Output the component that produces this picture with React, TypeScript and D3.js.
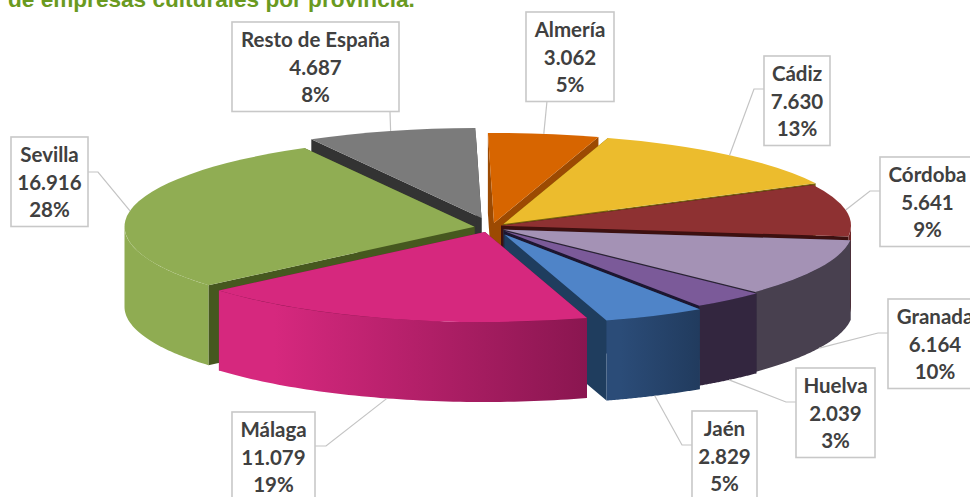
import React from 'react';
import * as d3 from 'd3';

// Datos: empresas culturales por provincia
const provincias = ['Almería', 'Cádiz', 'Córdoba', 'Granada', 'Huelva', 'Jaén', 'Málaga', 'Sevilla', 'Resto de España'];
const empresas = [3062, 7630, 5641, 6164, 2039, 2829, 11079, 16916, 4687];
const porcentajes = ['5%', '13%', '9%', '10%', '3%', '5%', '19%', '28%', '8%'];
const valoresTexto = ['3.062', '7.630', '5.641', '6.164', '2.039', '2.829', '11.079', '16.916', '4.687'];

// Estilos por porción, mismo orden que provincias
const topColors = ['#d76500', '#ecbc2d', '#8e3132', '#a492b5', '#7b5a99', '#4f84c8', '#d6287e', '#90ad53', '#7b7b7b'];
const cutColors = ['#9c4a02', '#75600f', '#3d1010', '#2a2433', '#1d1630', '#1f3d5e', '#7d1548', '#46581f', '#333333'];
const wallLeft = ['#9c4a02', '#8a6d10', '#6e2425', '#48404f', '#33263f', '#2b4c78', '#d6287e', '#8fac52', '#555555'];
const wallRight = ['#9c4a02', '#8a6d10', '#6e2425', '#48404f', '#33263f', '#213b5e', '#8a1650', '#8aa64d', '#555555'];

// Centro de cada porción separada (explosión)
const hubs: [number, number][] = [[494, 223], [503.5, 224], [501, 225.7], [503, 229.5], [504, 231], [504.5, 234.5], [485, 232], [474.5, 226.7], [481.5, 218]];

// Cajas de etiquetas [x, y, w] y el codo de la línea guía
const boxes: [number, number, number][] = [[526, 12, 88], [764, 56, 66], [880, 157, 95], [888, 299, 94], [796, 368, 79], [692, 411, 65], [232, 412, 83], [11, 137, 77], [232, 22, 167]];
const elbows: ([number, number] | null)[] = [null, [754, 89], [870, 191], [878, 333], [786, 402], [682, 445], [326, 446], [98, 172], null];
const boxAttach: [number, number][] = [[547, 101], [764, 89], [880, 191], [888, 333], [796, 402], [692, 445], [315, 446], [88, 172], [390, 112]];

const rx = 350;
const ry = 90;
const depth = 80;
const startDeg = -1;

// Orden de pintado, de atrás hacia delante
const paintOrder = [8, 0, 1, 2, 3, 4, 5, 7, 6];

const pie = d3.pie<number>().sort(null)
    .startAngle((startDeg * Math.PI) / 180)
    .endAngle(((startDeg + 360) * Math.PI) / 180);

const arcs = pie(empresas);

const arcGen = d3.arc<d3.PieArcDatum<number>>().innerRadius(0).outerRadius(rx);

const rimX = (a: number) => rx * Math.sin(a);
const rimY = (a: number) => -ry * Math.cos(a);

// Pared exterior: solo la mitad delantera del anillo
function outerWall(a0: number, a1: number) {
    const from = Math.max(a0, Math.PI / 2);
    const to = Math.min(a1, (3 * Math.PI) / 2);
    if (from >= to) return null;
    const steps = d3.range(0, 61).map(i => from + ((to - from) * i) / 60);
    return d3.area<number>()
        .x(rimX)
        .y0(rimY)
        .y1(a => rimY(a) + depth)(steps);
}

// Pared del corte radial
function cutWall(a: number) {
    const line = d3.line();
    return line([
        [0, 0],
        [rimX(a), rimY(a)],
        [rimX(a), rimY(a) + depth],
        [0, depth],
    ]) + 'Z';
}

function anchorOf(i: number): [number, number] {
    const d = arcs[i];
    const mid = (d.startAngle + d.endAngle) / 2;
    const [hx, hy] = hubs[i];
    const front = Math.cos(mid) < 0;
    return [hx + rimX(mid), hy + rimY(mid) + (front ? depth : 0)];
}

export default function App() {
    const leader = d3.line();
    return (
        <svg width={970} height={497} style={{ position: 'absolute', left: 0, top: 0, display: 'block', background: '#fff' }}>
            <defs>
                {arcs.map((d, i) => (
                    <linearGradient
                        key={i}
                        id={`wall-${i}`}
                        gradientUnits="userSpaceOnUse"
                        x1={Math.min(rimX(d.startAngle), rimX(d.endAngle))}
                        x2={Math.max(rimX(d.startAngle), rimX(d.endAngle))}
                        y1={0}
                        y2={0}
                    >
                        <stop offset="0.15" stopColor={wallLeft[i]} />
                        <stop offset="1" stopColor={wallRight[i]} />
                    </linearGradient>
                ))}
            </defs>

            <text x={8} y={7} fontFamily="'Liberation Sans', Arial, sans-serif" fontWeight="bold" fontSize={22.6} fill="#6a9a1f">
                de empresas culturales por provincia.
            </text>

            {paintOrder.map(i => {
                const d = arcs[i];
                const [hx, hy] = hubs[i];
                const wall = outerWall(d.startAngle, d.endAngle);
                return (
                    <g key={i} transform={`translate(${hx},${hy})`}>
                        <path d={cutWall(d.startAngle)} fill={cutColors[i]} />
                        <path d={cutWall(d.endAngle)} fill={cutColors[i]} />
                        {wall && <path d={wall} fill={`url(#wall-${i})`} />}
                        <path d={arcGen(d) as string} transform={`scale(1,${ry / rx})`} fill={topColors[i]} />
                    </g>
                );
            })}

            {provincias.map((name, i) => {
                const [x, y, w] = boxes[i];
                const pts: [number, number][] = [boxAttach[i]];
                if (elbows[i]) pts.push(elbows[i] as [number, number]);
                pts.push(anchorOf(i));
                const cx = x + w / 2;
                return (
                    <g key={name}>
                        <path d={leader(pts) as string} fill="none" stroke="#c4c4c4" strokeWidth={1.2} />
                        <rect x={x} y={y} width={w} height={89.5} fill="#fff" stroke="#c8c8c8" strokeWidth={1.6} />
                        <g fontFamily="Lato, sans-serif" fontWeight="bold" fontSize={20.5} fill="#404040" textAnchor="middle">
                            <text x={cx} y={y + 25}>{name}</text>
                            <text x={cx} y={y + 52.5}>{valoresTexto[i]}</text>
                            <text x={cx} y={y + 80}>{porcentajes[i]}</text>
                        </g>
                    </g>
                );
            })}
        </svg>
    );
}
